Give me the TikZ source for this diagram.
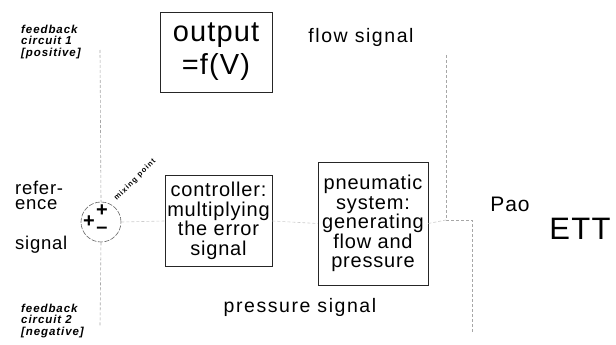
\documentclass[tikz,border=0pt]{standalone}
\usepackage{fontspec}
\setmainfont[LetterSpace=4]{Liberation Sans}
\newfontfamily\widefont[LetterSpace=8]{Liberation Sans}
\newfontfamily\tinyfont[LetterSpace=14]{Liberation Sans}
\begin{document}
\begin{tikzpicture}[x=1pt,y=-1pt,
  box/.style={draw=black!85,line width=0.9pt,inner sep=0pt,align=center},
  faint/.style={draw=black!35,line width=0.6pt,densely dashed},
  lbl/.style={inner sep=0pt,align=center},
  sgn/.style={inner sep=0pt,font=\fontsize{20}{20}\selectfont\bfseries},
  fb/.style={inner sep=0pt,align=left,font=\widefont\fontsize{11.5}{11.5}\selectfont\bfseries\itshape}
]
\useasboundingbox (0,0) rectangle (616,345);

% boxes
\node[box,minimum width=112pt,minimum height=80pt,font=\fontsize{29}{33}\selectfont] (out) at (216,52) {output\\=f(V)};
\node[box,minimum width=107pt,minimum height=91pt,font=\fontsize{20}{19.5}\selectfont] (ctrl) at (218.5,221) {controller:\\multiplying\\the error\\signal};
\node[box,minimum width=110pt,minimum height=123pt,font=\fontsize{20}{19.5}\selectfont] (pneu) at (373,223.5) {pneumatic\\system:\\generating\\flow and\\pressure};

% mixing point
\node[draw=black!60,line width=0.6pt,dash pattern=on 5pt off 1.5pt,circle,minimum size=40pt,inner sep=0pt] (mix) at (101,222) {};
\node[sgn] (p1) at (102,211) {+};
\node[sgn] (p2) at (89,222) {+};
\node[sgn] (m1) at (102,230) {\textendash};
\node[lbl,rotate=45,font=\tinyfont\fontsize{7.5}{7.5}\selectfont\bfseries] (mixlbl) at (135,180) {mixing point};

% texts
\node[lbl,font=\widefont\fontsize{19.5}{19.5}\selectfont] (flow) at (361,37) {flow signal};
\node[lbl,font=\widefont\fontsize{19.5}{19.5}\selectfont] (press) at (300,307) {pressure signal};
\node[lbl,anchor=west,align=left,font=\fontsize{18.5}{15}\selectfont] (ref) at (15,195) {refer-\\ence};
\node[lbl,anchor=west,font=\fontsize{18.5}{18.5}\selectfont] (sig) at (15,245) {signal};
\node[lbl,font=\fontsize{21}{21}\selectfont] (pao) at (510,204) {Pao};
\node[lbl,font=\fontsize{31}{31}\selectfont] (ett) at (580,229) {ETT};
\node[fb,anchor=west] (fb1) at (21,42) {feedback\\circuit 1\\{[}positive{]}};
\node[fb,anchor=west] (fb2) at (21,321) {feedback\\circuit 2\\{[}negative{]}};

% faint connectors
\coordinate (lt) at (100,50);
\coordinate (lb) at (100,326);
\coordinate (rt) at (446,55);
\coordinate (rm) at (446,220);
\coordinate (rj) at (472,220);
\coordinate (rb) at (472,333);
\draw[faint] (lt) -- (mix.north);
\draw[faint] (mix.south) -- (lb);
\draw[faint] (rt) -- (rm) -- (rj) -- (rb);
\draw[faint,black!20] (mix.east) -- (ctrl.west);
\draw[faint,black!20] (ctrl.east) -- (pneu.west);
\draw[faint,black!20] (pneu.east) -- (rm);
\end{tikzpicture}
\end{document}
